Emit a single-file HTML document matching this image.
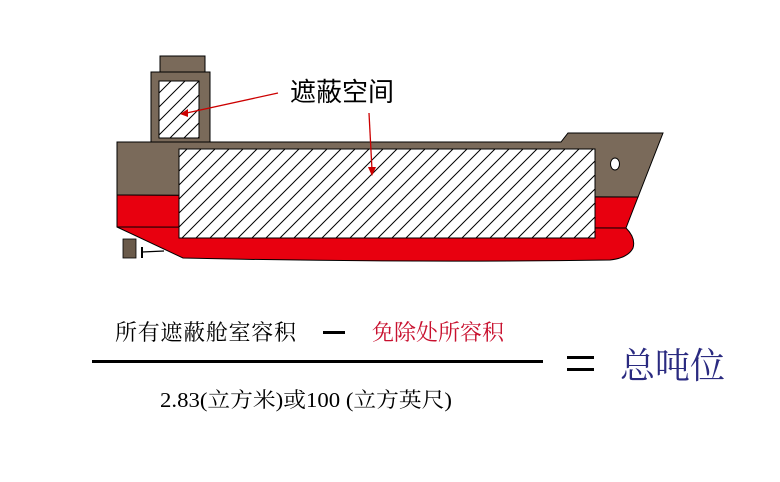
<!DOCTYPE html>
<html><head><meta charset="utf-8"><style>
body{margin:0;background:#fff;}
svg{display:block}
</style></head><body>
<svg width="780" height="482" viewBox="0 0 780 482" xmlns="http://www.w3.org/2000/svg">
<defs>
<pattern id="h" patternUnits="userSpaceOnUse" width="14" height="14">
<rect width="14" height="14" fill="#fff"/>
<path d="M-2,16 L16,-2 M-9,9 L9,-9 M5,23 L23,5" stroke="#000" stroke-width="1"/>
</pattern>
</defs>
<path d="M117,195 L638,197 L626,228 Q636,238 633,248 Q628,258 610,260 Q400,263 183,258 L117,227 Z" fill="#e8000f" stroke="#000" stroke-width="1"/>
<line x1="117" y1="227" x2="626" y2="228" stroke="#000" stroke-width="1"/>
<path d="M117,142 L561,142 L568,133 L663,133 L638,197 L117,195 Z" fill="#7a6a5a" stroke="#000" stroke-width="1"/>
<rect x="160" y="56" width="45" height="16" fill="#7a6a5a" stroke="#000" stroke-width="1"/>
<rect x="151" y="72" width="59" height="70" fill="#7a6a5a" stroke="#000" stroke-width="1"/>
<rect x="159" y="81" width="40" height="57" fill="url(#h)" stroke="#000" stroke-width="1"/>
<rect x="179" y="149" width="416" height="89" fill="url(#h)" stroke="#000" stroke-width="1"/>
<ellipse cx="615" cy="164" rx="4.5" ry="6" fill="#fff" stroke="#000" stroke-width="1"/>
<rect x="123" y="239" width="13" height="19" fill="#6a5a4a" stroke="#000" stroke-width="0.8"/>
<line x1="142" y1="247" x2="142" y2="258" stroke="#000" stroke-width="2"/>
<line x1="142" y1="252" x2="164" y2="251" stroke="#000" stroke-width="1.2"/>
<text x="290" y="101" font-family="Liberation Sans,'Noto Sans CJK SC',sans-serif" font-size="26" fill="#000">遮蔽空间</text>
<line x1="278" y1="93" x2="182" y2="114" stroke="#c00" stroke-width="1.3"/>
<path d="M180,114 L188,109 L188,117 Z" fill="#c00"/>
<line x1="369" y1="113" x2="372" y2="170" stroke="#c00" stroke-width="1.3"/>
<path d="M372,176 L368,167 L376,167 Z" fill="#c00"/>
<text x="115" y="340" font-family="'Noto Serif CJK SC',serif" font-size="22" fill="#000" textLength="181">所有遮蔽舱室容积</text>
<rect x="323" y="331" width="22" height="3" fill="#000"/>
<text x="372" y="340" font-family="'Noto Serif CJK SC',serif" font-size="22" fill="#c8102e">免除处所容积</text>
<rect x="92" y="360" width="451" height="3" fill="#000"/>
<text x="160" y="407" font-family="'Liberation Serif','Noto Serif CJK SC',serif" font-size="21" fill="#000" textLength="292" lengthAdjust="spacingAndGlyphs">2.83(立方米)或100 (立方英尺)</text>
<rect x="567" y="356" width="27" height="3" fill="#000"/>
<rect x="567" y="368" width="27" height="3" fill="#000"/>
<text x="620" y="378" font-family="'Noto Serif CJK SC',serif" font-size="36" fill="#2a2a80" textLength="105" lengthAdjust="spacingAndGlyphs">总吨位</text>
</svg>
</body></html>
